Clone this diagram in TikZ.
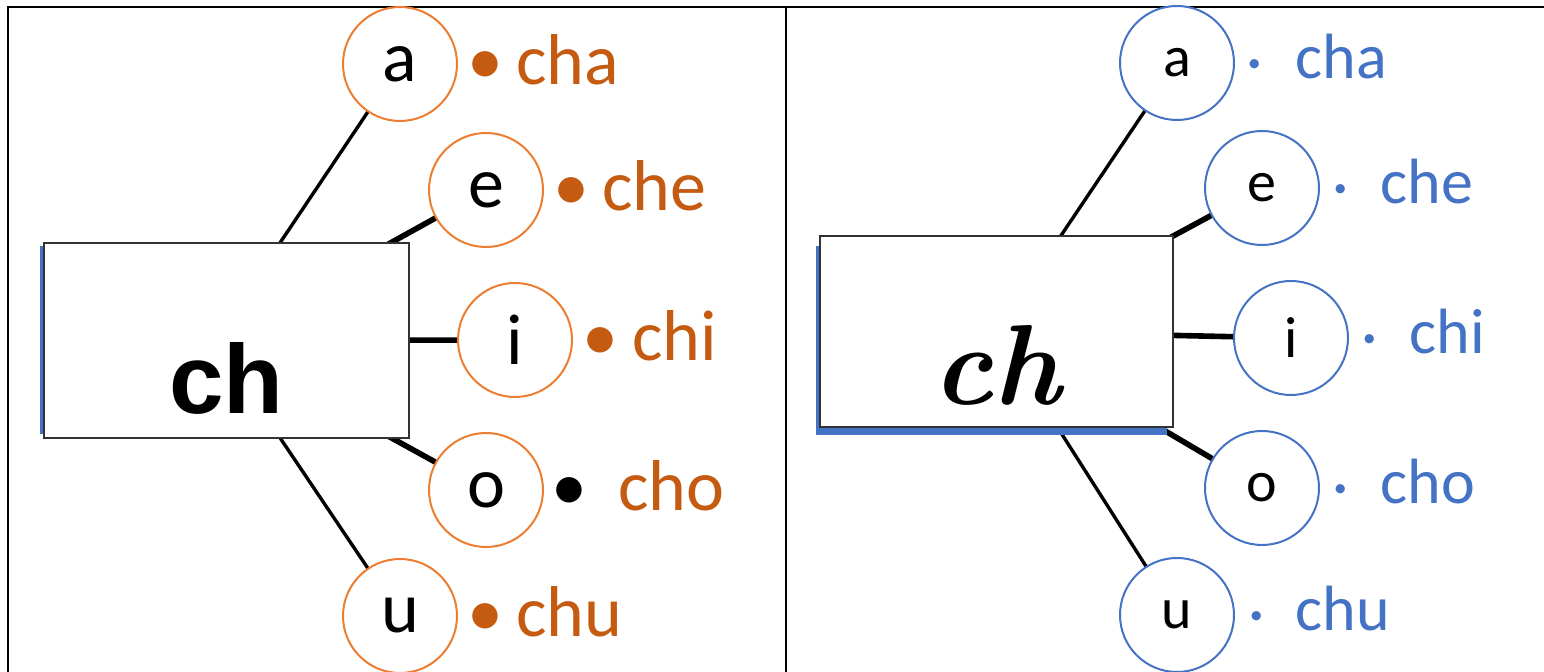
\documentclass[tikz,border=0pt]{standalone}
\usepackage{fontspec}
\setmainfont{Carlito}
\newfontfamily\arialfont{Liberation Sans}
\newfontfamily\curfont{Latin Modern Roman}
\usetikzlibrary{positioning,calc,backgrounds}

\definecolor{ringorange}{HTML}{ED7D31}
\definecolor{txtorange}{HTML}{C55A11}
\definecolor{ringblue}{HTML}{4472C4}

% bullet in front of a syllable, #1 = gap from dot centre to text
\newcommand\bigdot[1]{\llap{\makebox[0pt]{\textbullet}\hspace{#1}}}
\newcommand\smalldot[1]{\llap{\makebox[0pt]{\raisebox{3.7pt}{\fontsize{13}{13}\selectfont\textbullet}}\hspace{#1}}}

\begin{document}
\begin{tikzpicture}[x=0.5pt, y=-0.5pt,
  ring/.style={circle, draw, line width=1pt, fill=white, minimum size=57pt, inner sep=0pt},
  ringL/.style={ring, draw=ringorange, font=\fontsize{36}{36}\selectfont},
  ringR/.style={ring, draw=ringblue, font=\fontsize{29}{29}\selectfont},
  card/.style={draw=black!80, line width=0.7pt, fill=white, inner sep=0pt,
               text height=73.5pt, text depth=0pt},
  cardL/.style={card, minimum width=182.5pt, minimum height=97.5pt,
                font=\arialfont\bfseries\fontsize{49}{49}\selectfont},
  cardR/.style={card, minimum width=176.5pt, minimum height=95.5pt,
                font=\curfont\bfseries\itshape\fontsize{57}{57}\selectfont},
  tagL/.style={text=txtorange, inner sep=0pt, yshift=2pt, font=\fontsize{36}{36}\selectfont},
  tagR/.style={text=ringblue, inner sep=0pt, yshift=3pt, font=\fontsize{32}{32}\selectfont},
  spoke/.style={line width=1.7pt},
  spokeb/.style={line width=2.8pt},
  frame/.style={line width=1pt}]

\useasboundingbox (0,0) rectangle (1544,672);

% panels
\draw[frame] (8,672) -- (8,7) -- (1544,7);
\draw[frame] (786,7) -- (786,672);

% left: print letters
\node[cardL] (chL) at (226.5,340.5) {ch};
\coordinate (hubL) at ($(chL.center)+(-12,0)$);
\node[ringL] (aL) at (400,64)  {a};
\node[ringL] (eL) at (486,190) {e};
\node[ringL] (iL) at (515,340) {i};
\node[ringL] (oL) at (486,490) {o};
\node[ringL] (uL) at (400,616) {u};

\node[tagL, right=29pt of aL] (chaL) {\bigdot{15.5pt}cha};
\node[tagL, right=29pt of eL] (cheL) {\bigdot{15.5pt}che};
\node[tagL, right=29.5pt of iL] (chiL) {\bigdot{16pt}chi};
\node[tagL, right=37pt of oL] (choL) {\llap{\makebox[0pt]{\color{black}\textbullet}\hspace{24.5pt}}cho};
\node[tagL, right=29pt of uL] (chuL) {\bigdot{15.5pt}chu};

% right: cursive letters
\node[cardR] (chR) at (996.5,331.5) {ch};
\node[ringR] (aR) at (1177,63)  {a};
\node[ringR] (eR) at (1262,188) {e};
\node[ringR] (iR) at (1291,338) {i};
\node[ringR] (oR) at (1262,488) {o};
\node[ringR] (uR) at (1177,615) {u};

\node[tagR, right=30pt of aR] (chaR) {\smalldot{20.5pt}cha};
\node[tagR, right=30pt of eR] (cheR) {\smalldot{20pt}che};
\node[tagR, right=30pt of iR] (chiR) {\smalldot{20pt}chi};
\node[tagR, right=30pt of oR] (choR) {\smalldot{20pt}cho};
\node[tagR, right=30pt of uR] (chuR) {\smalldot{19.5pt}chu};

\begin{scope}[on background layer]
  \draw[spoke]  (hubL) -- (aL.center);
  \draw[spokeb] (hubL) -- (eL.center);
  \draw[spokeb] (hubL) -- (iL.center);
  \draw[spokeb] (hubL) -- (oL.center);
  \draw[spoke]  (hubL) -- (uL.center);
  \draw[spoke]  (chR.center) -- (aR.center);
  \draw[spokeb] (chR.center) -- (eR.center);
  \draw[spokeb] (chR.center) -- (iR.center);
  \draw[spokeb] (chR.center) -- (oR.center);
  \draw[spoke]  (chR.center) -- (uR.center);
  % blue shadows behind the cards
  \fill[ringblue] ($(chL.north west)+(-3,4)$) rectangle ($(chL.south east)+(-7,-5)$);
  \fill[ringblue] ($(chR.north west)+(-3,11)$) rectangle ($(chR.south east)+(-7,7)$);
\end{scope}

\end{tikzpicture}
\end{document}
